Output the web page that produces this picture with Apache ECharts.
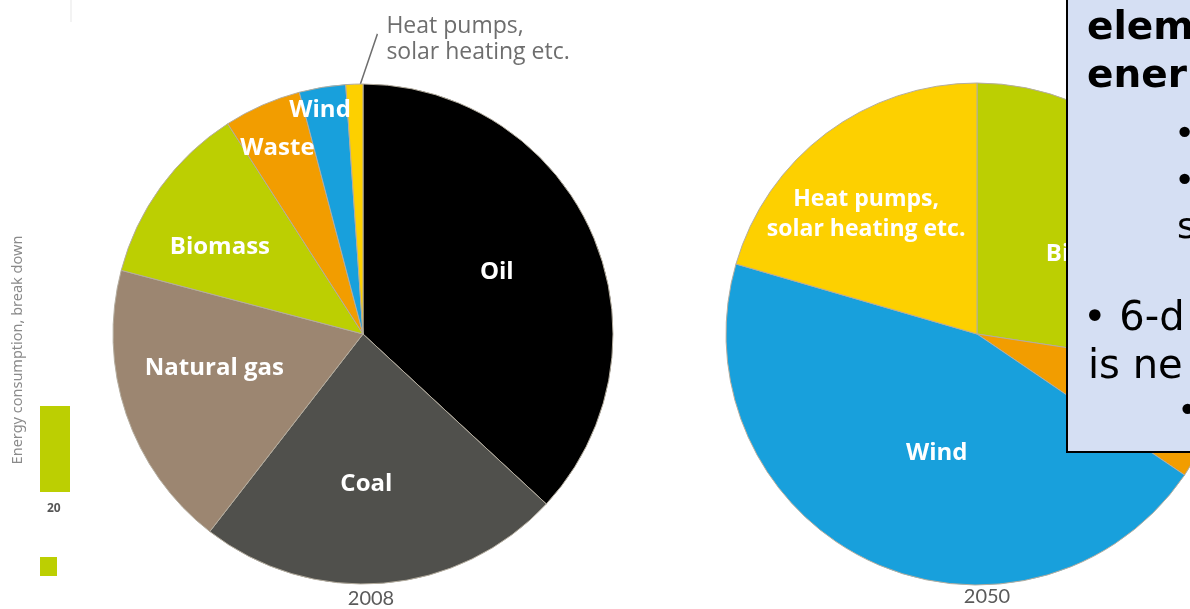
<!DOCTYPE html>
<html><head><meta charset="utf-8">
<script src="https://cdn.jsdelivr.net/npm/echarts@6/dist/echarts.min.js"></script>
<style>html,body{margin:0;padding:0;background:#fff}#c{width:1190px;height:609px}</style>
</head><body><div id="c"></div>
<script>
// ---- data ----
const categories2008 = ['Oil', 'Coal', 'Natural gas', 'Biomass', 'Waste', 'Wind', 'Heat pumps,\nsolar heating etc.'];
const values2008 = [36.9, 23.6, 18.6, 11.8, 5.0, 3.0, 1.1];
const categories2050 = ['Biomass', 'Waste', 'Wind', 'Heat pumps,\nsolar heating etc.'];
const values2050 = [27.4, 7.1, 45.0, 20.5];
const yearLabels = ['2008', '2050'];
const sideTitle = 'Energy consumption, break down';
const sideTick = '20';
const boxHeading = ['elements', 'ener'];
const boxSub = ['•  ', '•  ', 'solar'];
const boxMain = ['• 6-d', 'is ne'];
const boxSub2 = '•  ';

// ---- styles ----
const colors = {
  'Oil': '#000000', 'Coal': '#50504c', 'Natural gas': '#9c8671', 'Biomass': '#bccf02',
  'Waste': '#f29d00', 'Wind': '#18a0dc', 'Heat pumps,\nsolar heating etc.': '#fdd000'
};
// [fraction along slice angle, fraction of radius]
const labelPos2008 = [[0.49, 0.59], [0.54, 0.60], [0.585, 0.61], [0.39, 0.67], [0.45, 0.82], [0.36, 0.91], 'outside'];
const labelPos2050 = [[0.57, 0.57], [0.5, 0.8], [0.46, 0.5], [0.42, 0.65]];
const pies = [
  { center: [363, 334], radius: 250, values: values2008, cats: categories2008, labelPos: labelPos2008 },
  { center: [977, 334], radius: 251, values: values2050, cats: categories2050, labelPos: labelPos2050 }
];
const FONT = '"Open Sans", "Noto Sans", sans-serif';

function sliceGeom(values, idx) {
  const total = values.reduce((a, b) => a + b, 0);
  let s = 0; for (let i = 0; i < idx; i++) s += values[i];
  return { a0: s / total * 360, a1: (s + values[idx]) / total * 360 };
}
function polar(c, r, deg) {
  const t = deg * Math.PI / 180;
  return [c[0] + r * Math.sin(t), c[1] - r * Math.cos(t)];
}

function buildSeries(k) {
  const pie = pies[k];
  return {
    type: 'pie', silent: true, startAngle: 90, clockwise: true,
    center: pie.center, radius: pie.radius, avoidLabelOverlap: false,
    itemStyle: { borderColor: '#b4ad9f', borderWidth: 1 },
    label: {
      show: true, position: 'inside', color: '#ffffff', fontFamily: FONT,
      fontWeight: 'bold', fontSize: 24, lineHeight: 30, formatter: '{b}'
    },
    labelLine: { show: false },
    data: pie.cats.map((n, i) => {
      const d = { name: n, value: pie.values[i], itemStyle: { color: colors[n] } };
      if (pie.labelPos[i] === 'outside') {
        d.label = { position: 'outside', color: '#6e6e6e', fontWeight: 'normal', fontSize: 23, lineHeight: 26 };
        d.labelLine = { show: true, length: 20, length2: 5, lineStyle: { color: '#6e6e6e', width: 1.5 } };
      } else if (k === 1 && i === 3) {
        d.label = { fontSize: 23 };
      }
      return d;
    }),
    labelLayout: function (p) {
      const g = sliceGeom(pie.values, p.dataIndex);
      const lp = pie.labelPos[p.dataIndex];
      if (lp === 'outside') {
        const p0 = polar(pie.center, pie.radius, g.a0 + (g.a1 - g.a0) * 0.85);
        const p1 = [p0[0] + 17, p0[1] - 50];
        return {
          x: p1[0] + 9, y: p1[1] - 21, align: 'left', verticalAlign: 'top',
          labelLinePoints: [p0, p1, [p1[0] + 0.1, p1[1] - 0.1]]
        };
      }
      const pt = polar(pie.center, pie.radius * lp[1], g.a0 + (g.a1 - g.a0) * lp[0]);
      return { x: pt[0], y: pt[1], align: 'center', verticalAlign: 'middle' };
    }
  };
}

const boxFill = '#d5dff3';
const BOLD = 'bold 39px "DejaVu Sans", sans-serif';
const SUB = '36px "DejaVu Sans", sans-serif';
const MAIN = '40px "DejaVu Sans", sans-serif';
function boxText(x, y, text, font) {
  return { type: 'text', z: 101, x: x, y: y, style: { text: text, fill: '#000', font: font, verticalAlign: 'middle' } };
}
const graphics = [
  // left fragment of another chart
  { type: 'text', x: 18, y: 350, rotation: Math.PI / 2, style: { text: sideTitle, fill: '#8a8a8a', font: '14.5px "Noto Sans", sans-serif', align: 'center', verticalAlign: 'middle' } },
  { type: 'rect', shape: { x: 40, y: 406, width: 30, height: 86 }, style: { fill: '#bccf02' } },
  { type: 'text', x: 47, y: 509, style: { text: sideTick, fill: '#555', font: 'bold 12px "Noto Sans", sans-serif', verticalAlign: 'middle' } },
  { type: 'rect', shape: { x: 40, y: 557, width: 17, height: 19 }, style: { fill: '#bccf02' } },
  { type: 'rect', shape: { x: 70, y: 0, width: 2, height: 22 }, style: { fill: '#f3f3f3' } },
  // year labels
  { type: 'text', x: 371, y: 599, style: { text: yearLabels[0], fill: '#5a5a5a', font: '20px Lato, sans-serif', align: 'center', verticalAlign: 'middle' } },
  { type: 'text', x: 987, y: 597, style: { text: yearLabels[1], fill: '#5a5a5a', font: '20px Lato, sans-serif', align: 'center', verticalAlign: 'middle' } },
  // overlay text box
  { type: 'rect', z: 100, shape: { x: 1067, y: -10, width: 200, height: 462 }, style: { fill: boxFill, stroke: '#000', lineWidth: 2 } },
  boxText(1087, 29, boxHeading[0], BOLD),
  boxText(1087, 77, boxHeading[1], BOLD),
  boxText(1174, 136, boxSub[0], SUB),
  boxText(1174, 183, boxSub[1], SUB),
  boxText(1177, 229, boxSub[2], SUB),
  boxText(1083, 320, boxMain[0], MAIN),
  boxText(1088, 368, boxMain[1], MAIN),
  boxText(1177, 413, boxSub2, SUB)
];

const chart = echarts.init(document.getElementById('c'), null, { renderer: 'canvas' });
chart.setOption({
  backgroundColor: '#ffffff',
  animation: false,
  series: [buildSeries(0), buildSeries(1)],
  graphic: graphics
});
</script>
</body></html>
